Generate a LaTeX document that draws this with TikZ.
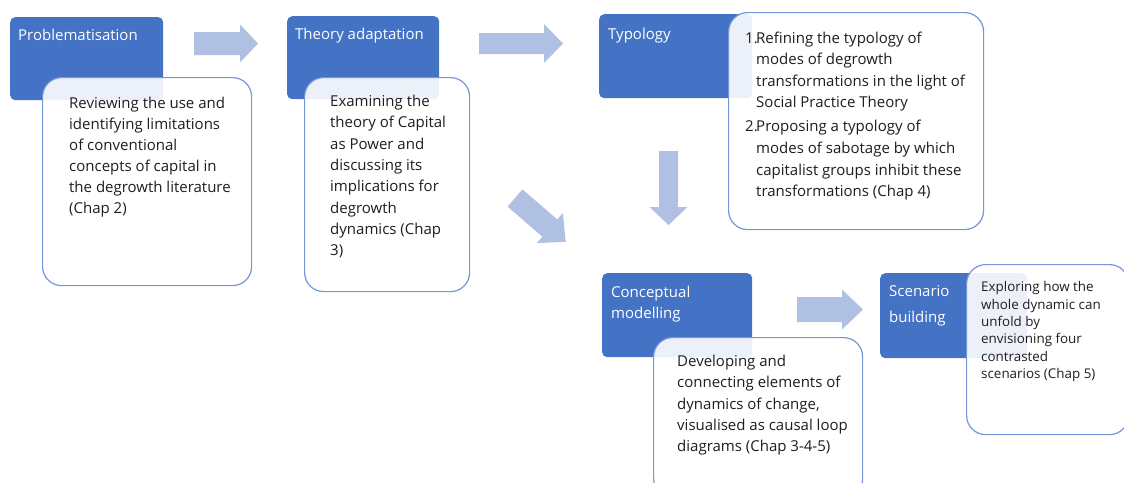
\documentclass[tikz,border=0pt]{standalone}
\usepackage{fontspec}
\setmainfont{Open Sans}

\definecolor{stageblue}{HTML}{4472C4}
\definecolor{arrowblue}{HTML}{B0C0E2}
\definecolor{cardline}{HTML}{7597D8}
\definecolor{ink}{HTML}{1E1E1E}

\tikzset{
  stage/.style={fill=stageblue, draw=none, rounded corners=5pt, inner sep=0pt, anchor=north west},
  card/.style={draw=cardline, line width=1.2pt, fill=white, fill opacity=0.9,
    rounded corners=19pt, inner sep=0pt, anchor=north west},
  title/.style={anchor=north west, inner sep=0pt, text=white, align=left,
    font=\fontsize{15}{21}\selectfont, execute at begin node={\rule{0pt}{15pt}}},
  body/.style={anchor=north west, inner sep=0pt, text=ink, align=left,
    font=\fontsize{15}{21.3}\selectfont, execute at begin node={\rule{0pt}{15pt}}},
  smallbody/.style={body, font=\fontsize{13.4}{17.3}\selectfont,
    execute at begin node={\rule{0pt}{13pt}}},
  % block arrow along +x: length / shaft half-width / head half-width / head length
  pics/fatarrow/.style args={#1/#2/#3/#4}{code={
    \fill[arrowblue] (0,-#2) -- (#1-#4,-#2) -- (#1-#4,-#3) -- (#1,0)
      -- (#1-#4,#3) -- (#1-#4,#2) -- (0,#2) -- cycle;
  }},
}

\begin{document}
\begin{tikzpicture}[x=1pt, y=-1pt]
\useasboundingbox (0,0) rectangle (1124,482);

% stage headers
\node[stage, minimum width=153pt, minimum height=83pt] (prob) at (10,17) {};
\node[stage, minimum width=152pt, minimum height=83pt] (theory) at (287,16) {};
\node[stage, minimum width=153pt, minimum height=84pt] (typo) at (599,14) {};
\node[stage, minimum width=150pt, minimum height=84pt] (model) at (602,273) {};
\node[stage, minimum width=147pt, minimum height=85pt] (scen) at (880,273) {};

% header titles
\node[title] (probT) at (18,25.5) {Problematisation};
\node[title] (theoryT) at (295,24.5) {Theory adaptation};
\node[title] (typoT) at (608,24) {Typology};
\node[title] (modelT) at (611,285.5) {Conceptual\\modelling};
\node[title, font=\fontsize{15}{25.5}\selectfont] (scenT) at (889,285.5) {Scenario\\building};

% description cards
\node[card, minimum width=209pt, minimum height=208pt] (probC) at (42,77) {};
\node[card, minimum width=165pt, minimum height=214pt] (theoryC) at (304,77) {};
\node[card, minimum width=255pt, minimum height=217pt] (typoC) at (728,12) {};
\node[card, minimum width=209pt, minimum height=160pt] (modelC) at (653,337) {};
\node[card, minimum width=162pt, minimum height=170pt] (scenC) at (966,264) {};

% card texts
\node[body, font=\fontsize{15}{21}\selectfont] (probD) at (69,97) {Reviewing the use and\\identifying limitations\\of conventional\\concepts of capital in\\the degrowth literature\\(Chap 2)};
\node[body] (theoryD) at (330,95) {Examining the\\theory of Capital\\as Power and\\discussing its\\implications for\\degrowth\\dynamics (Chap\\3)};
\node[body, font=\fontsize{15}{21.6}\selectfont] (typoD) at (745,31.5) {\makebox[11pt][l]{1.}Refining the typology of\\
  \hspace*{11pt}modes of degrowth\\
  \hspace*{11pt}transformations in the light of\\
  \hspace*{11pt}Social Practice Theory\\[2.4pt]
  \makebox[11pt][l]{2.}Proposing a typology of\\
  \hspace*{11pt}modes of sabotage by which\\
  \hspace*{11pt}capitalist groups inhibit these\\
  \hspace*{11pt}transformations (Chap 4)};
\node[body] (modelD) at (677,355) {Developing and\\connecting elements of\\dynamics of change,\\visualised as causal loop\\diagrams (Chap 3-4-5)};
\node[smallbody] (scenD) at (981,281.5) {Exploring how the\\whole dynamic can\\unfold by\\envisioning four\\contrasted\\scenarios (Chap 5)};

% flow arrows between stages
\pic (a1) at (194,43.5) {fatarrow={64/11.5/19/18}};
\pic (a2) at (479,43.5) {fatarrow={84/10.5/19.5/19}};
\pic[rotate=-90] (a3) at (668.5,151) {fatarrow={74/9.5/19/18}};
\pic[rotate=-40.8] (a4) at (515,198) {fatarrow={67/11.4/19.9/21}};
\pic (a5) at (797,309.5) {fatarrow={66/12.5/20/21}};
\end{tikzpicture}
\end{document}
